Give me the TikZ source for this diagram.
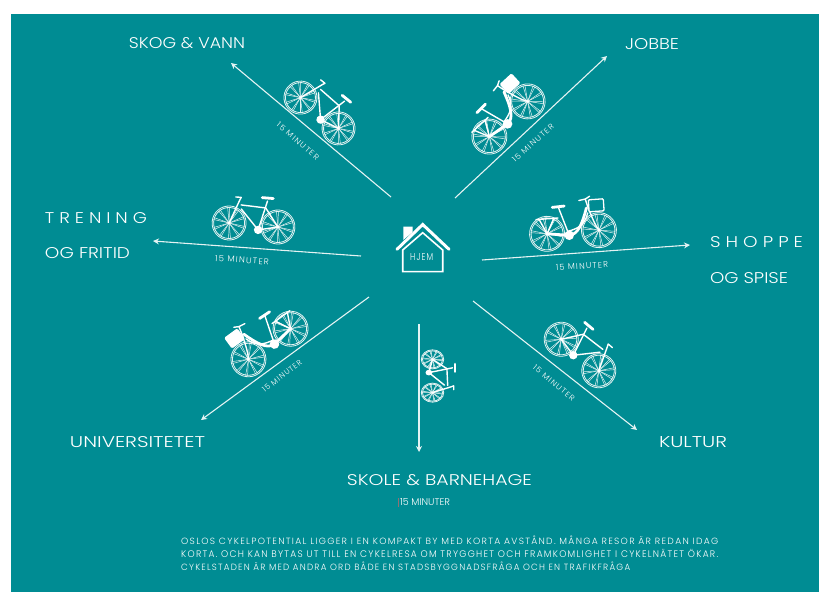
\documentclass[tikz,border=0pt]{standalone}
\usepackage{fontspec}
\usepackage{graphicx}
\setmainfont{Poppins Light}
\usetikzlibrary{arrows.meta}
\definecolor{teal0}{HTML}{008C93}
\definecolor{ink}{HTML}{E4F3F3}
\newcommand{\fitlab}[3]{\resizebox{#1bp}{#2bp}{#3}}
\newcommand{\spaced}[1]{{\addfontfeature{LetterSpace=14}#1}}
\newcommand{\bikewheel}[3]{%
  \draw[rimline] (#1,#2) circle (#3);
  \draw[rimline] (#1,#2) circle ({#3-1.5});
  \foreach \a in {8,44,...,332} {
    \draw[spokeline] (#1,#2) -- ++(\a:{#3-1});
    \draw[spokeline] (#1,#2) -- ++(\a+7:{#3-1});
  }
  \fill[white] (#1,#2) circle (1.6);
}
\tikzset{
  rimline/.style={draw=ink,line width=0.8pt},
  spokeline/.style={draw=ink,line width=0.5pt},
  bikeline/.style={draw=white,line width=1.4pt,line cap=round,line join=round},
  bikethick/.style={draw=white,line width=2.8pt,line cap=round,line join=round},
  route/.style={draw=ink,line width=1.1pt,-{Stealth[length=6pt,width=6pt]}},
  biglabel/.style={text=white,inner sep=0pt},
  smalllabel/.style={text=white,inner sep=0pt},
  pics/sportbike/.style={code={
    \bikewheel{-24.5}{0}{#1}
    \bikewheel{24.5}{0}{#1}
    \draw[bikeline] (5,4.5)--(12,-25);
    \draw[bikeline] (-14,-19)--(10.8,-18);
    \draw[bikeline] (-13.5,-15)--(5,4.5);
    \draw[bikeline] (5,4.5)--(24.5,0);
    \draw[bikeline] (10.8,-18)--(24.5,0);
    \draw[bikeline] (-24.5,0)--(-15.6,-24)--(-14.5,-26.5)--(-20,-26.5);
    \draw[bikethick] (6.5,-28)--(17.5,-28);
    \fill[white] (5,4.5) circle (4.2);
  }},
  pics/citybike/.style={code={
    \bikewheel{-26}{0}{17.5}
    \bikewheel{26}{0}{17.5}
    \draw[bikeline] (-13,-26)--(-4,3);
    \draw[bikeline] (-36,-15)--(-14,-15);
    \draw[bikeline] (-33,-15)--(-26,0);
    \draw[bikeline] (-18,-15)--(-26,0);
    \draw[bikethick] (15,-23) .. controls (10,-8) and (5,3) .. (-4,3);
    \draw[bikeline] (16,-18) .. controls (12,-5) and (4,-3) .. (-5,-1);
    \draw[bikeline] (14.5,-32)--(17,-22) .. controls (20,-14) and (22,-6) .. (26,0);
    \draw[bikeline] (8,-31)--(14.5,-32)--(19,-34.5);
    \draw[bikethick] (-4,3)--(-26,0);
    \draw[bikethick] (-19,-26)--(-7,-26.5);
    \draw[draw=white,line width=1.3pt,fill=#1,rounded corners=1pt] (17.5,-31) rectangle (32.5,-19);
    \fill[white] (-4,3) circle (4.8);
  }},
}
\begin{document}
\begin{tikzpicture}[x=1bp,y=-1bp]
\useasboundingbox (0,0) rectangle (819,592);
\fill[white] (0,0) rectangle (819,592);
\fill[teal0] (11,14) rectangle (819,592);

% house
\fill[white] (403.3,240)--(403.3,226.7)--(412.7,226.7)--(412.7,232)--cycle;
\draw[white,line width=3pt,line cap=round,line join=miter] (397,249.3)--(422.7,224.5)--(449,249.3);
\draw[white,line width=1.6pt,line join=miter] (402.7,271.7)--(402.7,250)--(422.7,232.7)--(442.7,250)--(442.7,271.7)--cycle;
\node[biglabel] (hjem) at (421.7,257.3) {\fitlab{23}{7}{\spaced{HJEM}}};

% routes
\coordinate (skogA) at (391,197);  \coordinate (skogB) at (231,63);
\coordinate (jobbA) at (455,198);  \coordinate (jobbB) at (607,56);
\coordinate (trenA) at (361,256);  \coordinate (trenB) at (153,241);
\coordinate (shopA) at (482,260);  \coordinate (shopB) at (690,245);
\coordinate (univA) at (369,297);  \coordinate (univB) at (201,420);
\coordinate (kultA) at (473,301);  \coordinate (kultB) at (637,430);
\coordinate (skolA) at (419,324);  \coordinate (skolB) at (419,452);
\draw[route] (skogA)--(skogB);
\draw[route] (jobbA)--(jobbB);
\draw[route] (trenA)--(trenB);
\draw[route] (shopA)--(shopB);
\draw[route] (univA)--(univB);
\draw[route] (kultA)--(kultB);
\draw[route] (skolA)--(skolB);

% bikes
\pic[rotate=-39] at (319.5,113) {sportbike=16.5};
\pic[rotate=-4.7] at (253.5,225) {sportbike=17};
\pic[rotate=-40,xscale=-1] at (580,355) {sportbike=17};
\pic[rotate=-90,xscale=-0.68,yscale=0.8] at (432.5,376) {sportbike=14};
\pic[rotate=42.6] at (508.5,119) {citybike=white};
\pic[rotate=4] at (573,232) {citybike=teal0};
\pic[rotate=36,xscale=-1] at (269.5,344) {citybike=white};

% time labels
\node[smalllabel,rotate=-41] (t1) at (298,141) {\fitlab{53}{5.5}{\spaced{15 MINUTER}}};
\node[smalllabel,rotate=42] (t2) at (533,143) {\fitlab{53}{5.5}{\spaced{15 MINUTER}}};
\node[smalllabel,rotate=-4] (t3) at (242,260) {\fitlab{54}{6}{\spaced{15 MINUTER}}};
\node[smalllabel,rotate=3] (t4) at (582,266) {\fitlab{52}{6}{\spaced{15 MINUTER}}};
\node[smalllabel,rotate=38] (t5) at (282,376) {\fitlab{48}{5.5}{\spaced{15 MINUTER}}};
\node[smalllabel,rotate=-40] (t6) at (554,383) {\fitlab{52}{5.5}{\spaced{15 MINUTER}}};
\node[smalllabel] (t7) at (425,502) {\fitlab{50}{7}{15 MINUTER}};
\fill[red!45!teal0!80!white] (398,498) rectangle (399,507);

% destination labels
\node[biglabel] (skog) at (187,43) {\fitlab{116}{11}{SKOG \& VANN}};
\node[biglabel] (jobbe) at (652,44) {\fitlab{54}{11}{JOBBE}};
\node[biglabel] (tren1) at (96,218) {\fitlab{102}{11}{T R E N I N G}};
\node[biglabel] (tren2) at (87.5,253.5) {\fitlab{85}{11}{OG FRITID}};
\node[biglabel] (shop1) at (756.5,242.5) {\fitlab{93}{11}{S H O P P E}};
\node[biglabel] (shop2) at (749,278) {\fitlab{78}{11}{OG SPISE}};
\node[biglabel] (univ) at (137.5,442) {\fitlab{135}{11}{UNIVERSITETET}};
\node[biglabel] (kultur) at (693,442) {\fitlab{68}{11}{KULTUR}};
\node[biglabel] (skole) at (439.5,480) {\fitlab{185}{11}{SKOLE \& BARNEHAGE}};

% paragraph
\node[biglabel,anchor=base west] (p1) at (181,544.5) {\fitlab{537}{8.6}{\spaced{OSLOS CYKELPOTENTIAL LIGGER I EN KOMPAKT BY MED KORTA AVSTÅND. MÅNGA RESOR ÄR REDAN IDAG}}};
\node[biglabel,anchor=base west] (p2) at (181,557) {\fitlab{537}{8.2}{\spaced{KORTA. OCH KAN BYTAS UT TILL EN CYKELRESA OM TRYGGHET OCH FRAMKOMLIGHET I CYKELNÄTET ÖKAR.}}};
\node[biglabel,anchor=base west] (p3) at (181,570) {\fitlab{449}{8.6}{\spaced{CYKELSTADEN ÄR MED ANDRA ORD BÅDE EN STADSBYGGNADSFRÅGA OCH EN TRAFIKFRÅGA}}};
\end{tikzpicture}
\end{document}
